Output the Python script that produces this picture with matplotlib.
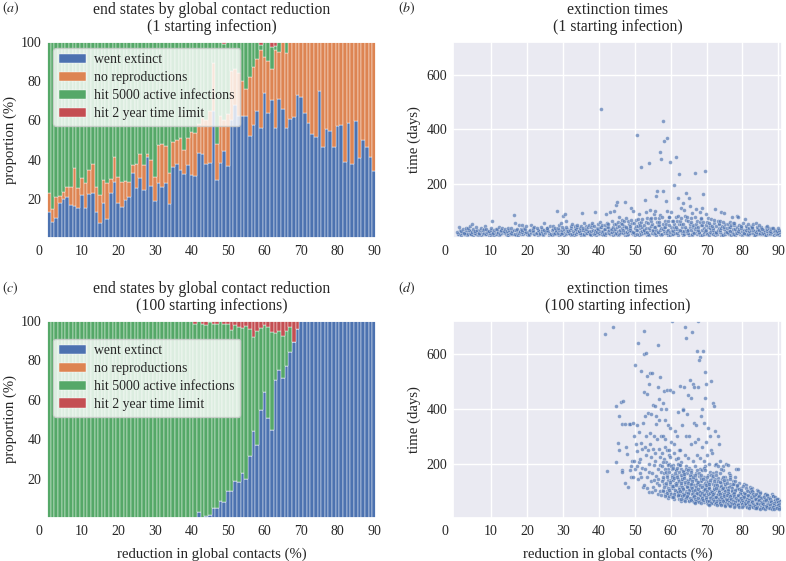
import numpy as np
import matplotlib
matplotlib.use("Agg")
import matplotlib.pyplot as plt
import seaborn as sns

sns.set_theme(style="darkgrid")
plt.rcParams["font.family"] = ["Liberation Serif", "DejaVu Serif"]
plt.rcParams["mathtext.fontset"] = "stix"
plt.rcParams.update({"font.size": 10, "axes.titlesize": 11.3, "axes.labelsize": 10.6,
                     "xtick.labelsize": 10, "ytick.labelsize": 10, "legend.fontsize": 9.9})

reduction = np.arange(1, 91)

# (a) 1 starting infection: % went extinct, and top edge of the "no reproductions" block
extinct_1 = [13.6, 8.5, 10.2, 17.8, 19.8, 20.8, 17.0, 16.6, 15.3, 22.0,
             15.6, 22.5, 23.2, 13.6, 8.0, 17.8, 9.7, 22.9, 28.8, 18.0,
             15.8, 19.5, 21.0, 33.0, 25.8, 30.5, 24.6, 41.5, 26.6, 19.0,
             28.0, 26.0, 28.0, 17.5, 36.4, 38.0, 34.7, 32.7, 37.3, 32.0,
             31.9, 43.2, 42.9, 38.0, 38.5, 65.0, 29.5, 38.4, 44.3, 36.8,
             60.0, 68.0, 62.0, 62.0, 62.0, 52.0, 57.6, 65.0, 56.0, 73.7,
             63.6, 70.3, 56.0, 70.8, 66.0, 56.0, 60.5, 61.5, 72.9, 72.0,
             63.6, 58.5, 53.0, 51.7, 75.0, 46.6, 55.6, 54.6, 46.6, 57.0,
             57.6, 39.0, 58.5, 38.0, 59.8, 40.7, 50.0, 46.3, 41.5, 34.4]
no_repro_top_1 = [22.9, 14.7, 21.0, 21.7, 23.7, 26.3, 26.3, 35.6, 25.4, 30.5,
                  28.0, 34.7, 38.0, 26.3, 22.0, 29.7, 28.3, 30.0, 41.5, 31.0,
                  28.8, 29.0, 28.8, 37.3, 38.0, 43.0, 37.3, 43.0, 39.8, 31.4,
                  47.5, 48.0, 47.0, 33.0, 49.0, 50.0, 51.0, 45.0, 51.0, 54.0,
                  53.4, 58.0, 61.0, 60.0, 65.0, 89.0, 48.0, 62.0, 60.0, 63.0,
                  85.0, 86.0, 84.0, 80.0, 76.0, 82.0, 87.0, 91.0, 96.0, 92.0,
                  90.0, 86.0, 96.0, 95.0, 100.0, 94.0] + [100.0] * 24
time_limit_1 = [0.0] * 48 + [1.2] + [0.0] * 9 + [1.5, 0.0, 0.0, 2.5, 2.0] + [0.0] * 27

# (c) 100 starting infections
extinct_100 = [0.0] * 41 + [3.0, 0.0, 1.3, 1.7, 5.0, 5.0, 9.0, 8.5, 14.0, 14.0,
                            19.0, 18.5, 23.0, 20.0, 31.5, 44.0, 37.0, 55.0, 64.0, 51.0,
                            44.5, 70.0, 75.0, 71.0, 77.0, 84.0, 89.0, 96.0] + [100.0] * 21
no_repro_top_100 = extinct_100
time_limit_100 = [0.0] * 40 + [1.5, 0.0, 1.5, 2.0, 0.5, 1.5, 1.5, 0.0, 1.5, 1.5,
                               4.5, 2.0, 3.0, 3.5, 2.5, 4.0, 8.0, 5.0, 3.5, 2.0,
                               3.0, 5.5, 6.0, 5.0, 7.5, 5.0, 3.0, 11.0, 4.0] + [0.0] * 21

# (b) extinction times in days, one list per reduction level 1..90
times_1 = [
    [14, 17, 20, 24, 29, 41], [13, 16, 19, 22, 27, 33], [12, 15, 18, 21, 25, 31, 38],
    [14, 17, 21, 26, 30, 36, 45], [12, 16, 19, 23, 28, 34, 52], [13, 15, 18, 22, 27, 32, 40],
    [12, 16, 20, 24, 30, 37], [14, 17, 21, 25, 29, 35, 44], [13, 16, 19, 23, 28, 33],
    [12, 15, 18, 22, 26, 31, 38, 62], [13, 17, 20, 24, 29, 35], [12, 15, 19, 23, 27, 33, 41],
    [14, 18, 22, 26, 31, 37], [13, 16, 20, 24, 28, 34], [12, 15, 18, 22, 27, 32, 39],
    [14, 17, 21, 25, 30, 36, 84], [13, 16, 20, 24, 29, 35, 55], [12, 15, 19, 23, 28, 34, 50],
    [14, 18, 22, 26, 31, 38, 48], [13, 16, 19, 23, 27, 33, 46], [12, 15, 18, 22, 27, 32, 49],
    [14, 17, 21, 26, 31, 37, 43], [13, 16, 20, 25, 30, 36], [12, 15, 19, 23, 28, 35, 42],
    [14, 18, 22, 27, 32, 39, 58], [13, 17, 21, 25, 30, 36, 47], [12, 16, 20, 24, 29, 35, 44],
    [14, 17, 21, 26, 31, 38, 101], [13, 16, 20, 24, 29, 36, 50, 58], [12, 15, 19, 24, 29, 35, 43, 83],
    [14, 18, 22, 27, 33, 40, 88, 62], [13, 17, 21, 26, 31, 38, 46], [12, 16, 20, 25, 30, 37, 44, 52],
    [14, 18, 22, 27, 33, 40, 48], [13, 17, 21, 26, 32, 39, 47, 92], [12, 16, 20, 25, 31, 38, 46, 55],
    [14, 18, 23, 28, 34, 41, 50], [13, 17, 21, 26, 32, 40, 48, 57], [12, 16, 21, 26, 32, 39, 47, 96],
    [14, 18, 22, 28, 34, 42, 51, 60], [13, 17, 22, 27, 33, 41, 49, 474], [12, 16, 21, 26, 33, 40, 49, 58, 88],
    [14, 18, 23, 29, 35, 43, 52, 95], [13, 17, 22, 28, 35, 43, 53, 62, 100],
    [12, 16, 21, 27, 34, 42, 51, 61, 123, 135], [14, 19, 24, 30, 37, 45, 55, 66, 80],
    [13, 18, 23, 29, 36, 44, 54, 64, 135], [12, 17, 22, 28, 35, 43, 52, 63, 75],
    [14, 19, 25, 31, 38, 47, 57, 68, 110], [13, 18, 24, 30, 37, 46, 56, 67, 100],
    [12, 17, 23, 29, 37, 46, 56, 70, 380, 88], [14, 19, 25, 32, 40, 49, 60, 72, 261],
    [13, 18, 24, 31, 39, 48, 59, 74, 141, 95], [12, 17, 23, 30, 38, 47, 58, 71, 276, 103],
    [14, 19, 25, 32, 41, 51, 62, 76, 90], [13, 18, 24, 31, 40, 50, 61, 75, 175, 156, 102],
    [12, 17, 23, 30, 39, 49, 60, 73, 316, 292, 85], [14, 19, 26, 33, 42, 52, 64, 78, 429, 359, 174],
    [13, 18, 25, 32, 41, 51, 63, 80, 370, 138, 102], [12, 17, 24, 31, 40, 50, 62, 77, 280, 95],
    [14, 20, 27, 34, 43, 53, 65, 79, 300, 196], [13, 19, 26, 33, 42, 52, 64, 81, 237, 149],
    [12, 18, 25, 32, 41, 51, 63, 76, 111, 129], [14, 19, 26, 34, 43, 54, 66, 82, 166, 105],
    [13, 18, 25, 32, 41, 51, 62, 78, 147, 118], [12, 17, 24, 31, 40, 50, 61, 74, 92],
    [14, 19, 25, 33, 42, 52, 63, 77, 241, 106], [13, 18, 24, 31, 40, 50, 60, 72, 98],
    [12, 17, 23, 30, 39, 49, 59, 73, 248, 163, 113], [14, 19, 25, 32, 41, 50, 61, 75, 88],
    [13, 18, 24, 31, 39, 48, 58, 70], [12, 17, 23, 30, 38, 47, 57, 68, 108],
    [14, 18, 24, 31, 38, 46, 55, 65], [13, 17, 23, 29, 36, 44, 53, 63, 95],
    [12, 16, 22, 28, 35, 43, 52, 61, 94], [14, 18, 23, 29, 36, 43, 51, 60],
    [13, 17, 22, 28, 34, 41, 49, 58, 80], [12, 16, 21, 27, 33, 40, 48, 56, 82],
    [14, 18, 22, 28, 34, 41, 49, 78], [13, 17, 21, 26, 32, 39, 47, 55],
    [12, 16, 20, 25, 31, 38, 46, 70], [14, 17, 21, 26, 32, 38, 45, 53],
    [13, 16, 20, 25, 30, 36, 43, 51], [12, 15, 19, 24, 29, 35, 42, 55],
    [14, 17, 21, 25, 30, 36, 42, 50], [13, 16, 20, 24, 29, 34, 40],
    [12, 15, 19, 23, 28, 33, 39, 46], [14, 17, 20, 24, 28, 33, 38],
    [13, 16, 19, 23, 27, 32, 37], [12, 15, 18, 22, 26, 31, 36],
]
# where each point sits inside its 1% step, in tenths (one digit per point above)
pos_1 = [
    "529174", "083615", "7250946", "1869305", "4072851", "9316042",
    "602837", "3759148", "815260", "47190536", "290748", "6143927",
    "058316", "973402", "2618053", "8402719", "5179360", "0736492",
    "3925170", "6481903", "1057846", "7390215", "492861", "8216573",
    "0547392", "5862019", "3179486", "9024637", "46183059", "70392815",
    "25967403", "8310567", "61429780", "0938254", "57204169", "34860192",
    "9165037", "20748356", "81536904", "46091728", "73258140", "105937264",
    "62849017", "390615728", "8527041936", "047381592", "716294058", "253860971",
    "984102635", "431759280", "6092837415", "175940362", "8341605927", "5208391647",
    "926473018", "30851962740", "74069213586", "19527480362", "65380179425", "2849617035",
    "0716352894", "4392081576", "8561740239", "1937506482", "6204983157", "357268014",
    "9081647325", "543019786", "27816350941", "760492583", "18473526", "935120648",
    "42069187", "681357024", "057924613", "73261849", "294081375", "516739208",
    "80514963", "36928017", "95073642", "21648390", "68395124", "04716853",
    "49250761", "8317509", "15693482", "7024156", "3958260", "6149073",
]

# (d) extinction times in days, reduction levels 42..90 (none below)
times_100 = [
    [675, 172], [], [700], [410, 275, 207], [425, 375, 345, 250, 175],
    [430, 345, 170, 130], [345, 260, 115, 235], [345, 210, 190, 175, 150],
    [560, 350, 300, 270, 210, 180, 150], [640, 340, 315, 245, 205, 190, 165, 145],
    [600, 540, 350, 275, 255, 215, 185, 150, 115],
    [685, 605, 520, 460, 375, 300, 260, 230, 180, 150, 120],
    [530, 490, 455, 385, 310, 270, 250, 200, 170, 135, 110, 95],
    [530, 415, 380, 300, 255, 225, 195, 165, 140, 115, 95],
    [480, 410, 375, 345, 290, 240, 210, 180, 155, 130, 105, 90],
    [635, 515, 435, 400, 360, 300, 255, 225, 195, 170, 145, 120, 100, 85],
    [465, 420, 360, 300, 260, 240, 215, 190, 165, 145, 125, 105, 90],
    [470, 400, 340, 290, 250, 230, 205, 180, 160, 140, 120, 100, 85, 75],
    [720, 470, 330, 280, 250, 225, 200, 180, 160, 140, 125, 110, 95, 80],
    [460, 320, 270, 240, 215, 195, 175, 155, 140, 125, 110, 95, 80, 70],
    [390, 300, 250, 220, 195, 175, 160, 145, 130, 115, 100, 90, 80, 70],
    [485, 400, 340, 250, 205, 180, 165, 150, 135, 120, 108, 95, 85, 75, 65],
    [700, 660, 480, 395, 300, 230, 190, 170, 155, 140, 125, 112, 100, 88, 78, 68],
    [505, 450, 380, 300, 220, 185, 165, 150, 135, 122, 110, 98, 88, 78, 68],
    [680, 490, 440, 350, 270, 210, 175, 158, 142, 128, 115, 103, 92, 82, 72, 64],
    [610, 480, 340, 280, 230, 190, 165, 148, 133, 120, 108, 97, 87, 77, 68, 60],
    [720, 590, 580, 480, 375, 290, 220, 180, 155, 140, 126, 113, 101, 90, 80, 70, 62],
    [610, 440, 400, 350, 260, 210, 175, 150, 135, 122, 110, 99, 88, 78, 69, 60],
    [535, 490, 330, 280, 230, 190, 160, 140, 126, 114, 103, 93, 83, 74, 65, 57],
    [500, 300, 250, 200, 170, 148, 132, 119, 107, 96, 86, 77, 68, 60, 53],
    [420, 410, 320, 240, 195, 165, 143, 127, 114, 102, 92, 82, 73, 65, 57],
    [300, 270, 200, 170, 148, 130, 116, 104, 93, 84, 75, 67, 59, 52],
    [210, 190, 165, 145, 128, 114, 102, 92, 83, 74, 66, 58, 51],
    [200, 175, 150, 132, 117, 104, 93, 84, 75, 67, 60, 53],
    [195, 165, 140, 124, 110, 98, 88, 79, 71, 63, 56, 49],
    [160, 135, 118, 105, 94, 84, 76, 68, 61, 54, 48],
    [180, 150, 125, 110, 98, 88, 79, 71, 64, 57, 51, 45],
    [180, 130, 112, 100, 89, 80, 72, 65, 58, 52, 46],
    [125, 110, 97, 87, 78, 70, 63, 57, 51, 45],
    [120, 105, 93, 83, 75, 67, 60, 54, 48, 43],
    [115, 100, 89, 80, 72, 65, 58, 52, 47, 42],
    [110, 96, 86, 77, 69, 62, 56, 50, 45, 40],
    [105, 92, 82, 74, 66, 60, 54, 48, 43, 39],
    [95, 85, 77, 70, 63, 57, 51, 46, 41, 37],
    [90, 81, 73, 66, 60, 54, 49, 44, 40],
    [85, 77, 70, 63, 57, 52, 47, 42, 38],
    [90, 75, 68, 61, 55, 50, 45, 41, 37],
    [80, 72, 65, 59, 53, 48, 44, 40, 36],
    [70, 64, 58, 53, 48, 44, 40, 36],
]
pos_100 = [
    "28", "", "4", "173", "52819", "3706", "8164", "27405", "6138250", "40726183",
    "938150627", "15904726381", "740286153904", "26184073952", "813570294618",
    "05381726490357", "6294815073628", "31705926481537", "84261307952641",
    "07539184260735", "52948036172958", "196034857216093", "4730856129407381",
    "820645193758206", "3619082574136928", "7052836190472581", "26419057382641950",
    "5937182604957138", "0482619375028465", "736159402837615", "149073825641903",
    "68205173946028", "3917460825193", "805263917460", "472903815627", "19358260471",
    "630841927053", "25079316482", "8143690527", "3905814726", "6271590384",
    "0496278135", "5738041926", "2160937584", "947305162", "381647920", "615092847",
    "072836591", "49160528",
]
reduction_100 = np.arange(42, 91)

# (d) the dense core of runs, reduction levels 58..90
core_100 = [
    [205, 180, 150, 135, 115, 98], [195, 170, 150, 130, 110, 92, 80],
    [190, 170, 150, 132, 118, 102, 88, 76], [185, 165, 148, 130, 117, 103, 90, 78],
    [200, 182, 168, 152, 138, 122, 108, 95, 84], [195, 172, 158, 142, 128, 114, 100, 90, 80, 70],
    [180, 162, 147, 133, 118, 106, 94, 84, 73, 62], [175, 158, 143, 128, 116, 104, 93, 83, 73, 63],
    [170, 152, 138, 124, 110, 98, 87, 77, 68, 60], [178, 157, 140, 126, 113, 102, 92, 82, 72, 64, 57],
    [165, 148, 133, 120, 108, 96, 85, 75, 66, 58], [185, 158, 142, 128, 115, 104, 94, 84, 74, 66, 57],
    [175, 150, 133, 120, 108, 98, 88, 79, 70, 62, 54], [160, 140, 125, 112, 101, 91, 82, 73, 64, 57, 50],
    [155, 136, 121, 108, 97, 87, 78, 70, 62, 54], [190, 160, 138, 122, 109, 98, 88, 79, 71, 63, 56, 49],
    [180, 150, 134, 119, 107, 96, 87, 78, 70, 62, 55, 48], [140, 124, 111, 99, 89, 80, 72, 64, 57, 50, 45],
    [150, 130, 116, 104, 93, 84, 75, 67, 60, 53, 47], [145, 126, 112, 100, 90, 80, 72, 64, 57, 51, 45],
    [138, 118, 104, 93, 83, 75, 67, 60, 53, 47, 42], [120, 106, 94, 84, 75, 68, 61, 54, 48, 43],
    [118, 104, 92, 82, 74, 66, 59, 53, 47, 42], [112, 99, 88, 79, 71, 63, 57, 51, 45, 40],
    [108, 95, 85, 76, 68, 61, 55, 49, 44, 39], [100, 90, 80, 72, 65, 58, 52, 47, 42, 37],
    [98, 87, 78, 70, 63, 57, 51, 45, 41, 36], [92, 82, 74, 66, 60, 54, 48, 43, 39, 35],
    [88, 78, 70, 63, 57, 51, 46, 42, 37, 34], [84, 75, 67, 60, 54, 49, 44, 40, 36],
    [80, 72, 65, 58, 52, 47, 43, 39, 35], [76, 68, 61, 55, 50, 45, 41, 37, 34],
    [72, 64, 58, 52, 47, 43, 39, 35],
]
core_pos_100 = [
    "394162", "8152730", "60937158", "27481630", "519370846", "0846271953",
    "7315908264", "4982063175", "1630574829", "92574180361", "3817265094", "60492817350",
    "15830694278", "84217593060", "2695038147", "705318629403", "491680257316", "36072491857",
    "92853160746", "17649028351", "58310794262", "0472869135", "6195037482", "3820641597",
    "9507318264", "1469205738", "7283946051", "4051729683", "8364015927", "260953148",
    "913470826", "547128093", "08352716",
]
reduction_core = np.arange(58, 91)

labels = ["went extinct", "no reproductions", "hit 5000 active infections", "hit 2 year time limit"]
colors = sns.color_palette("deep")
state_colors = [colors[0], colors[1], colors[2], colors[3]]

W, H = 786, 561
fig = plt.figure(figsize=(W / 100, H / 100), dpi=100)
ax_a = fig.add_axes([47 / W, 1 - 238.3 / H, 329 / W, 196.6 / H])
ax_b = fig.add_axes([453 / W, 1 - 238.3 / H, 329 / W, 196.6 / H])
ax_c = fig.add_axes([47 / W, 1 - 518.3 / H, 329 / W, 197.6 / H])
ax_d = fig.add_axes([453 / W, 1 - 518.3 / H, 329 / W, 197.6 / H])


def end_states(ax, extinct, no_repro_top, limit, title, legend_y):
    extinct = np.array(extinct)
    no_repro = np.array(no_repro_top) - extinct
    limit = np.array(limit)
    active = 100 - extinct - no_repro - limit
    bottom = np.zeros(len(reduction))
    for vals, col, lab in zip([extinct, no_repro, active, limit], state_colors, labels):
        ax.bar(reduction, vals, bottom=bottom, width=1.0, color=col,
               edgecolor="white", linewidth=0.3, label=lab)
        bottom = bottom + vals
    ax.set_xlim(0.5, 90.5)
    ax.set_ylim(0, 100)
    ax.set_yticks([20, 40, 60, 80, 100])
    ax.set_ylabel("proportion (%)", labelpad=3)
    ax.set_title(title, pad=8, linespacing=1.05)
    ax.legend(loc="upper left", bbox_to_anchor=(0, legend_y),
              facecolor="white", framealpha=0.8, labelspacing=0.36,
              handletextpad=0.6, borderaxespad=0.45)


def spread(xs, times, pos):
    x, y = [], []
    for r, t, p in zip(xs, times, pos):
        p = p.ljust(len(t), "5")
        x += [r + (int(d) - 4.5) * 0.1 for d in p[:len(t)]]
        y += t
    return x, y


def extinction_times(ax, x, y, title):
    ax.scatter(x, y, s=8, color=colors[0], alpha=0.65, edgecolors="white", linewidths=0.3)
    ax.set_xlim(-0.6, 91)
    ax.set_ylim(0, 722)
    ax.set_yticks([200, 400, 600])
    ax.set_ylabel("time (days)", labelpad=4)
    ax.set_title(title, pad=8, linespacing=1.05)


end_states(ax_a, extinct_1, no_repro_top_1, time_limit_1,
           "end states by global contact reduction\n(1 starting infection)", 1.0)
end_states(ax_c, extinct_100, no_repro_top_100, time_limit_100,
           "end states by global contact reduction\n(100 starting infections)", 0.94)

bx, by = spread(reduction, times_1, pos_1)
extinction_times(ax_b, bx, by, "extinction times\n(1 starting infection)")
dx, dy = spread(reduction_100, times_100, pos_100)
cx, cy = spread(reduction_core, core_100, core_pos_100)
extinction_times(ax_d, dx + cx, dy + cy, "extinction times\n(100 starting infection)")

for ax in [ax_a, ax_b, ax_c, ax_d]:
    ax.set_xticks(range(10, 91, 10))
    ax.tick_params(axis="both", length=0)
    ax.tick_params(axis="x", pad=5)
    ax.tick_params(axis="y", pad=4)
    ax.annotate("0", xy=(0, 0), xycoords="axes fraction", xytext=(-6, -5),
                textcoords="offset points", ha="center", va="top", fontsize=10)
for ax in [ax_c, ax_d]:
    ax.set_xlabel("reduction in global contacts (%)", labelpad=6.5)

for lab, (px, py) in zip("abcd", [(2, 8), (398, 8), (2, 288), (398, 288)]):
    fig.text(px / W, 1 - py / H, r"$(%s)$" % lab, ha="left", va="center", fontsize=10)

fig.savefig("out.png", dpi=100)
